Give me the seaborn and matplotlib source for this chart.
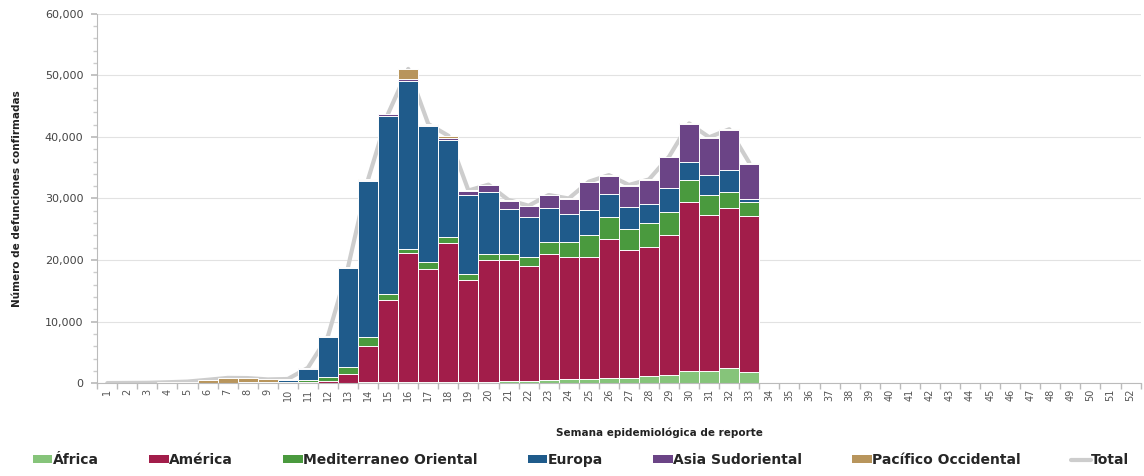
import numpy as np
import pandas as pd
import matplotlib
matplotlib.use("Agg")
import matplotlib.pyplot as plt
import seaborn as sns
from matplotlib.patches import Patch
from matplotlib.lines import Line2D
from matplotlib.ticker import FuncFormatter, MultipleLocator

# Semanas con datos (1-33); el eje llega hasta la 52
semanas = list(range(1, 34))
todas_semanas = list(range(1, 53))

africa = [0, 0, 0, 0, 0, 0, 0, 0, 0, 0, 20, 30, 60, 120, 150, 150, 200,
          200, 200, 250, 300, 350, 500, 600, 700, 800, 900, 1200, 1300,
          1950, 1950, 2500, 1850]
america = [0, 0, 0, 0, 0, 0, 0, 0, 10, 30, 150, 350, 1500, 6000, 13300,
           21000, 18400, 22500, 16500, 19800, 19700, 18700, 20500, 19900,
           19850, 22700, 20700, 20900, 22750, 27500, 25350, 25900, 25300]
mediterraneo = [0, 0, 0, 0, 0, 20, 60, 100, 150, 150, 400, 700, 1000, 1350,
                1100, 700, 1100, 1100, 1100, 1000, 1050, 1500, 2000, 2450,
                3500, 3500, 3500, 3850, 3800, 3500, 3250, 2700, 2300]
europa = [0, 0, 0, 0, 10, 30, 50, 80, 100, 350, 1800, 6400, 16100, 25400,
          28900, 27300, 22100, 15700, 12700, 10000, 7300, 6500, 5400, 4450,
          4050, 3800, 3500, 3100, 3800, 3000, 3250, 3500, 400]
asia = [0, 0, 0, 0, 0, 0, 0, 0, 0, 0, 30, 80, 100, 150, 250, 200, 200, 400,
        700, 1100, 1300, 1700, 2100, 2500, 4550, 2900, 3500, 3950, 5050,
        6100, 6000, 6500, 5800]
pacifico = [20, 40, 60, 150, 250, 500, 750, 650, 350, 150, 100, 100, 100,
            100, 100, 1700, 100, 300, 100, 100, 100, 80, 70, 100, 80, 100,
            100, 100, 100, 150, 150, 150, 150]

regiones = ["África", "América", "Mediterraneo Oriental", "Europa",
            "Asia Sudoriental", "Pacífico Occidental"]
colores = ["#86c47a", "#a21d4a", "#4a9a3e", "#1f5b8b", "#6b4486", "#b8955c"]
color_total = "#cdcdcd"

df = pd.DataFrame({
    "semana": semanas,
    "África": africa,
    "América": america,
    "Mediterraneo Oriental": mediterraneo,
    "Europa": europa,
    "Asia Sudoriental": asia,
    "Pacífico Occidental": pacifico,
})
df["Total"] = df[regiones].sum(axis=1)

# acumulados para apilar (se dibuja de arriba hacia abajo)
acum = df[regiones].cumsum(axis=1)

sns.set_theme(style="white")
plt.rcParams["font.family"] = ["DejaVu Sans"]

fig, ax = plt.subplots(figsize=(11.44, 4.76), dpi=100)
fig.subplots_adjust(left=0.085, right=0.997, top=0.971, bottom=0.195)

for region, color in reversed(list(zip(regiones, colores))):
    sns.barplot(x=df["semana"], y=acum[region], color=color, width=1.0,
                native_scale=True, edgecolor="white", linewidth=0.7,
                saturation=1, ax=ax, zorder=2)

# la línea del total queda detrás de las barras
sns.lineplot(x=df["semana"], y=df["Total"], color=color_total, linewidth=3,
             ax=ax, zorder=1)

ax.set_xlim(0.5, 52.5)
ax.set_ylim(0, 60000)
ax.set_xticks(todas_semanas)
ax.set_xticklabels([str(s) for s in todas_semanas], rotation=90,
                   fontsize=7, color="#555555")
ax.set_xticks(np.arange(0.5, 53, 1), minor=True)
ax.tick_params(axis="x", which="major", length=0, pad=4)
ax.tick_params(axis="x", which="minor", length=4, color="#bbbbbb",
               bottom=True)

ax.yaxis.set_major_locator(MultipleLocator(10000))
ax.yaxis.set_minor_locator(MultipleLocator(2000))
ax.yaxis.set_major_formatter(FuncFormatter(lambda v, p: f"{int(v):,}"))
ax.tick_params(axis="y", which="major", labelsize=8, labelcolor="#444444",
               length=4, color="#bbbbbb", left=True, pad=6)
ax.tick_params(axis="y", which="minor", length=3, color="#cccccc", left=True)
ax.grid(axis="y", which="major", color="#e2e2e2", linewidth=0.8, zorder=0)
ax.set_axisbelow(True)

for lado in ["top", "right"]:
    ax.spines[lado].set_visible(False)
for lado in ["left", "bottom"]:
    ax.spines[lado].set_color("#bbbbbb")
    ax.spines[lado].set_linewidth(0.8)

ax.set_ylabel("Número de defunciones confirmadas", fontsize=7.5,
              fontweight="bold", color="#222222")
ax.yaxis.set_label_coords(-0.072, 0.5)
ax.set_xlabel("Semana epidemiológica de reporte", fontsize=7.5,
              fontweight="bold", color="#222222")
ax.xaxis.set_label_coords(0.539, -0.12)

handles = [Patch(facecolor=c, edgecolor="none") for c in colores]
handles.append(Line2D([0], [0], color=color_total, linewidth=3))
fig.legend(handles, regiones + ["Total"], loc="lower center", ncol=7,
           frameon=False, bbox_to_anchor=(0.508, -0.008),
           prop={"weight": "bold", "size": 10}, handlelength=1.4,
           handleheight=0.5, handletextpad=0.05, columnspacing=3.6)

fig.savefig("out.png", dpi=100)
